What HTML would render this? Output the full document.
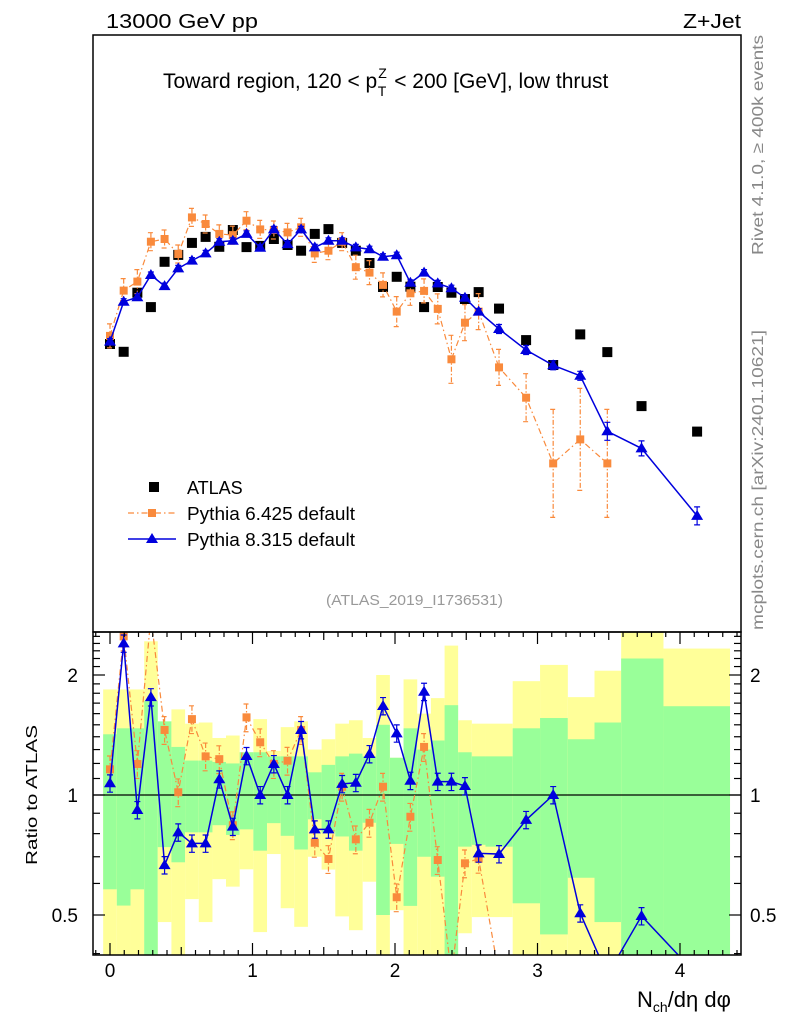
<!DOCTYPE html>
<html><head><meta charset="utf-8"><style>
html,body{margin:0;padding:0;background:#fff;width:786px;height:1024px;overflow:hidden;font-family:"Liberation Sans",sans-serif}
svg{display:block}
svg text{font-family:"Liberation Sans","DejaVu Sans",sans-serif}
</style></head><body>
<svg id="c" width="786" height="1024" viewBox="0 0 786 1024" xmlns="http://www.w3.org/2000/svg">
<g id="bands"></g>
<g id="marks"></g>
<g id="axes"></g>
<text x="106" y="28" font-size="20" textLength="152" lengthAdjust="spacingAndGlyphs">13000 GeV pp</text>
<text x="683" y="28" font-size="20" textLength="58" lengthAdjust="spacingAndGlyphs">Z+Jet</text>
<text x="163" y="88" font-size="21">Toward region, 120 &lt; p<tspan font-size="14" dy="-10" dx="1">Z</tspan><tspan font-size="14" dy="18" dx="-9">T</tspan><tspan dy="-8" dx="2"> &lt; 200 [GeV], low thrust</tspan></text>
<text x="326" y="605" font-size="15" fill="#999" textLength="177" lengthAdjust="spacingAndGlyphs">(ATLAS_2019_I1736531)</text>
<text transform="translate(763,255) rotate(-90)" font-size="16" fill="#888" textLength="220" lengthAdjust="spacingAndGlyphs">Rivet 4.1.0, ≥ 400k events</text>
<text transform="translate(763,630) rotate(-90)" font-size="16" fill="#888" textLength="300" lengthAdjust="spacingAndGlyphs">mcplots.cern.ch [arXiv:2401.10621]</text>
<text transform="translate(37,865) rotate(-90)" font-size="16" textLength="140" lengthAdjust="spacingAndGlyphs">Ratio to ATLAS</text>
<text x="637" y="1007" font-size="22">N<tspan font-size="14" dy="5">ch</tspan><tspan dy="-5">/dη dφ</tspan></text>
<g>
<rect x="149" y="482" width="10" height="10" fill="#000"/>
<text x="187" y="494" font-size="18">ATLAS</text>
<line x1="128" y1="513" x2="176" y2="513" stroke="#f98a3c" stroke-width="1.2" stroke-dasharray="6,3,1.5,3"/>
<rect x="148" y="509" width="8" height="8" fill="#f98a3c"/>
<text x="187" y="520" font-size="18" textLength="168" lengthAdjust="spacingAndGlyphs">Pythia 6.425 default</text>
<line x1="128" y1="539" x2="176" y2="539" stroke="#0000dd" stroke-width="1.5"/>
<polygon points="152,533 158,543 146,543" fill="#0000dd"/>
<text x="187" y="546" font-size="18" textLength="168" lengthAdjust="spacingAndGlyphs">Pythia 8.315 default</text>
</g>
</svg>
<script>
const xAtlas=[0,0.096,0.192,0.287,0.383,0.479,0.575,0.671,0.767,0.862,0.958,1.054,1.150,1.246,1.341,1.437,1.533,1.629,1.725,1.821,1.916,2.012,2.108,2.204,2.300,2.396,2.491,2.587,2.73,2.92,3.11,3.30,3.49,3.73,4.12];
const atlasV=[96,93.4,113.1,108.3,123.4,125.7,129.7,131.7,128.4,134,128.3,128.7,131,129,127.1,132.7,134.3,129.7,127.1,123,115,118.4,115.1,108.3,115,113.1,111,113.3,107.8,97.3,89,99.2,93.3,75.3,66.8];
const py6V=[98.7,113.8,116.8,130.1,131,126,138.2,136,132.7,132.3,137.1,134.2,134,133.2,134.9,126.2,127.1,130.1,121.6,119.8,115.7,106.8,112.9,113.7,107.7,90.9,103.1,106.8,88.2,78.1,56.2,64.2,56.2];
const py6Err=[4,4,4,3,3,3,3,3,3,3,3,3,3,3,3,3,3,3,4,4,4,5,4,4,5,8,6,6,6,8,18,17,18];
const py8V=[96.8,110.1,111.6,119,115.3,121.2,123.8,126.2,130.1,130.4,132.7,128.1,134.2,129.3,134.2,128.2,130.4,130.4,128.2,127.6,125.1,125.6,116.4,119.8,116.2,114.6,111.4,106.8,101,94,88.9,85.4,66.9,61.2,38.7];
const py8Err=[1,1,1,1,1,1,1,1,1,1,1,1,1,1,1,1,1,1,1,1,1,1,1,1,1,1,1,1,1.5,1.5,1.5,1.5,3,2.5,3];
const ratio8=[1.07,2.40,0.917,1.76,0.667,0.806,0.756,0.756,1.095,0.833,1.253,1.0,1.196,1.0,1.456,0.82,0.82,1.066,1.073,1.267,1.672,1.428,1.086,1.816,1.08,1.08,1.053,0.714,0.711,0.866,1.0,0.505,0.3,0.497,0.2];
const ratio6=[1.16,2.5,1.196,2.8,1.456,1.016,1.55,1.25,1.23,0.84,1.566,1.356,1.196,1.219,1.456,0.759,0.691,1.049,0.774,0.852,1.049,0.554,0.882,1.32,0.687,0.3,0.674,0.692,0.3];
const binEdges=[-0.048,0.048,0.144,0.240,0.335,0.431,0.527,0.623,0.719,0.814,0.910,1.006,1.102,1.198,1.293,1.389,1.485,1.581,1.677,1.773,1.868,1.964,2.060,2.156,2.252,2.348,2.443,2.539,2.635,2.826,3.018,3.213,3.400,3.587,3.884,4.351];
const yelHi=[1.84,1.84,1.84,2.43,1.53,1.64,1.51,1.52,1.39,1.41,1.28,1.55,1.29,1.48,1.53,1.30,1.38,1.51,1.54,1.39,2.0,1.24,1.95,1.60,1.75,2.37,1.54,1.51,1.51,1.93,2.12,1.76,2.05,2.7,2.33];
const grnHi=[1.42,1.47,1.47,1.72,1.53,1.32,1.22,1.22,1.21,1.20,1.28,1.28,1.25,1.25,1.25,1.14,1.19,1.25,1.27,1.25,1.50,1.24,1.47,1.30,1.37,1.68,1.28,1.25,1.25,1.47,1.56,1.38,1.52,2.20,1.67];
const grnLo=[0.58,0.528,0.58,0.35,0.74,0.678,0.806,0.806,0.84,0.794,0.82,0.725,0.85,0.79,0.73,0.869,0.805,0.787,0.725,0.852,0.50,0.754,0.527,0.70,0.624,0.35,0.742,0.75,0.742,0.535,0.447,0.62,0.48,0.35,0.35];
const yelLo=[0.35,0.35,0.35,0.35,0.48,0.35,0.548,0.48,0.615,0.589,0.651,0.453,0.711,0.52,0.467,0.70,0.65,0.496,0.458,0.606,0.35,0.514,0.35,0.35,0.35,0.35,0.45,0.494,0.494,0.35,0.35,0.35,0.35,0.35,0.35];

const NS='http://www.w3.org/2000/svg';
const X0=110,XS=142.5;
const L=93,R=741,MT=35,MB=632,RT=632,RB=955;
function sx(u){return X0+u*XS;}
function sy(v){return MB-v*3;}
function ry(r){return Math.min(Math.max(795-120*Math.log2(Math.max(r,0.01)),RT-20),RB+20);}
function mk(parent,tag,attrs){const e=document.createElementNS(NS,tag);for(const k in attrs)e.setAttribute(k,attrs[k]);parent.appendChild(e);return e;}
const bands=document.getElementById('bands'),marks=document.getElementById('marks'),axes=document.getElementById('axes');
const clip=mk(document.getElementById('c'),'clipPath',{id:'rc'});mk(clip,'rect',{x:L,y:RT,width:R-L,height:RB-RT});
bands.setAttribute('clip-path','url(#rc)');
for(let i=0;i<yelHi.length;i++){
  const x1=sx(binEdges[i]),x2=sx(binEdges[i+1]);
  let e=mk(bands,'rect',{x:x1,y:ry(yelHi[i]),width:x2-x1,height:ry(yelLo[i])-ry(yelHi[i]),fill:'#ffff99'});
  
  
  e=mk(bands,'rect',{x:x1,y:ry(grnHi[i]),width:x2-x1,height:ry(grnLo[i])-ry(grnHi[i]),fill:'#99ff99'});
  
  
}
let e=mk(bands,'line',{x1:L,x2:R,y1:ry(1),y2:ry(1),stroke:'#000','stroke-width':1.3});


const org='#f98a3c',blu='#0000dd';
function series(g,vals,errs,col,dash,shape,yfn,name){
  const pts=vals.map((v,i)=>sx(xAtlas[i])+','+yfn(v)).join(' ');
  let l=mk(g,'polyline',{points:pts,fill:'none',stroke:col,'stroke-width':dash?1.2:1.5});
  if(dash)l.setAttribute('stroke-dasharray','6,3,1.5,3');
  
  
  vals.forEach((v,i)=>{
    const x=sx(xAtlas[i]),y=yfn(v);
    if(errs){const y1=yfn(v+errs[i]),y2=yfn(Math.max(v-errs[i],0.01));
      const eb=mk(g,'path',{d:`M${x},${y1}V${y2}M${x-3},${y1}H${x+3}M${x-3},${y2}H${x+3}`,stroke:col,'stroke-width':1.2,fill:'none'});
      if(dash)eb.setAttribute('stroke-dasharray','5,2,1.5,2');
      
      }
    let m;
    if(shape==='sq')m=mk(g,'rect',{x:x-4,y:y-4,width:8,height:8,fill:col});
    else m=mk(g,'polygon',{points:`${x},${y-6} ${x+6},${y+4} ${x-6},${y+4}`,fill:col});
    
    
  });
}
const mg=mk(marks,'g',{});
xAtlas.forEach((u,i)=>{const r=mk(mg,'rect',{x:sx(u)-5,y:sy(atlasV[i])-5,width:10,height:10,fill:'#000'});
  
  });
series(mg,py6V,py6Err,org,true,'sq',sy,'pythia6');
series(mg,py8V,py8Err,blu,false,'tri',sy,'pythia8');
const rg=mk(marks,'g',{'clip-path':'url(#rc)'});
series(rg,ratio6,ratio6.map(r=>r*0.08),org,true,'sq',ry,'pythia6-ratio');
series(rg,ratio8,ratio8.map(r=>r*0.05),blu,false,'tri',ry,'pythia8-ratio');
[[MT,MB],[RT,RB]].forEach(([t,b],k)=>{
  const f=mk(axes,'rect',{x:L,y:t,width:R-L,height:b-t,fill:'none',stroke:'#000','stroke-width':1.5});
  
  
});
for(let j=-1;j<=44;j++){const u=j/10,x=sx(u);if(x<L||x>R)continue;const big=j%5===0;const len=j%10===0?12:(big?8:5);
  [RT,RB].forEach((yy,k)=>{const t=mk(axes,'line',{x1:x,x2:x,y1:yy,y2:yy+(k===0?len:-len),stroke:'#000','stroke-width':1.2});
  
  });}
const xticks=[0,1,2,3,4];
xticks.forEach(v=>{const t=mk(axes,'text',{x:sx(v),y:977,'font-size':19,'text-anchor':'middle'});t.textContent=v;
  
  });
const yMinor=[0.4,0.5,0.6,0.7,0.8,0.9,1,1.1,1.2,1.3,1.4,1.5,1.6,1.7,1.8,1.9,2,2.1,2.2,2.3,2.4,2.5];
yMinor.forEach(r=>{const y=ry(r);if(y<RT||y>RB)return;const len=(r===0.5||r===1||r===2)?12:7;
  [[L,len],[R,-len]].forEach(([x,d])=>{const t=mk(axes,'line',{x1:x,x2:x+d,y1:y,y2:y,stroke:'#000','stroke-width':1.2});
  
  });});
const yLabels=['2','1','0.5'];
yLabels.forEach(s=>{const y=ry(parseFloat(s))+7;
  [[78,'end'],[750,'start']].forEach(([x,a])=>{const t=mk(axes,'text',{x:x,y:y,'font-size':19,'text-anchor':a});t.textContent=s;
  
  });});
</script>
</body></html>
